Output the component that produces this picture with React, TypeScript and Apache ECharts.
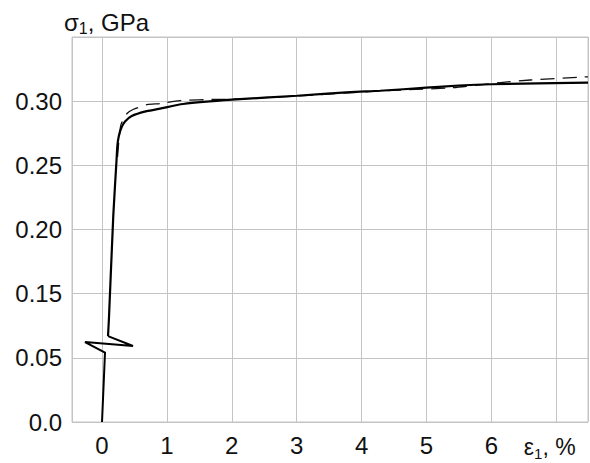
import React, { useEffect, useRef } from "react";
import * as echarts from "echarts";

// Strain ε1 (%) and stress σ1 (GPa) readings
const solidLower: [number, number][] = [
  [0, 0],
  [0.046, 0.054],
];
const solidUpper: [number, number][] = [
  [0.0925, 0.1169], [0.108, 0.132], [0.174, 0.211], [0.222, 0.2525], [0.238, 0.266],
  [0.262, 0.2735], [0.3, 0.2795], [0.355, 0.2842], [0.458, 0.2885], [0.689, 0.2922],
  [0.894, 0.2942], [1.249, 0.2978], [2.004, 0.3012], [3.006, 0.3042],
  [3.824, 0.3071], [4.286, 0.3081], [5.0, 0.3105], [5.5, 0.3122],
  [6.0, 0.3132], [7.49, 0.3145],
];
const dashed: [number, number][] = [
  [0.239, 0.2565], [0.262, 0.2704], [0.293, 0.2819], [0.385, 0.2904],
  [0.478, 0.2935], [0.694, 0.2973], [0.894, 0.2981], [1.2, 0.3004],
  [1.77, 0.3014], [2.0, 0.3015], [3.0, 0.304], [4.29, 0.308],
  [5.37, 0.3104], [6.14, 0.3145], [6.6, 0.3165], [7.49, 0.319],
];
// Zig-zag break symbol drawn on the curve (already in broken-axis units)
const breakMark: [number, number][] = [
  [-0.262, 0.0623],
  [0.478, 0.0592],
  [0.0925, 0.0669],
];

// The stress axis skips 0.05 GPa above the break
const BREAK_AT = 0.065;
const SKIP = 0.05;
const toAxis = (v: number) => (v > BREAK_AT ? v - SKIP : v);
const fromAxis = (d: number) => (d > 0.06 ? d + SKIP : d);
const mapPts = (pts: [number, number][]) => pts.map(([x, y]) => [x, toAxis(y)]);

const FONT = "'Liberation Sans', Arial, sans-serif";
const INK = "#111";

export default function App() {
  const ref = useRef<HTMLDivElement>(null);
  useEffect(() => {
    if (!ref.current) return;
    const chart = echarts.init(ref.current, undefined, { renderer: "svg" });
    const lowerWithBreak = [...mapPts(solidLower), ...breakMark];
    chart.setOption({
      animation: false,
      backgroundColor: "#ffffff",
      textStyle: { fontFamily: FONT },
      grid: {
        left: 72,
        right: 2,
        top: 37,
        bottom: 41,
        containLabel: false,
        outerBoundsMode: "none",
        show: true,
        borderColor: "#c4c4c4",
        borderWidth: 1,
      },
      xAxis: {
        type: "value",
        min: -0.4625,
        max: 7.49,
        minInterval: 1,
        maxInterval: 1,
        splitNumber: 8,
        axisLine: { show: false },
        axisTick: { show: false },
        splitLine: { show: true, lineStyle: { color: "#c4c4c4", width: 1 } },
        axisLabel: {
          showMinLabel: false,
          showMaxLabel: false,
          margin: 11,
          color: INK,
          fontSize: 24,
          fontFamily: FONT,
          formatter: (v: number) => {
            if (Math.abs(v - 7) < 1e-6) return "{g|ε}{s|1}{e|, %}";
            return String(Math.round(v));
          },
          rich: {
            g: { fontSize: 23, fontFamily: FONT, color: INK, lineHeight: 28 },
            s: { fontSize: 15, fontFamily: FONT, color: INK, lineHeight: 15, verticalAlign: "bottom" },
            e: { fontSize: 23, fontFamily: FONT, color: INK, lineHeight: 28, padding: [0, 13, 0, 0] },
          },
        },
      },
      yAxis: {
        type: "value",
        min: 0,
        max: 0.3,
        interval: 0.05,
        name: "{g|σ}{s|1}{e|, GPa}",
        nameLocation: "end",
        nameGap: 1,
        nameMoveOverlap: false,
        nameTextStyle: {
          rich: {
            g: { fontSize: 24, fontFamily: FONT, color: INK, lineHeight: 28, padding: [0, 0, 0, 9] },
            s: { fontSize: 16, fontFamily: FONT, color: INK, lineHeight: 16, verticalAlign: "bottom" },
            e: { fontSize: 24, fontFamily: FONT, color: INK, lineHeight: 28 },
          },
        },
        axisLine: { show: false },
        axisTick: { show: false },
        splitLine: { show: true, lineStyle: { color: "#c4c4c4", width: 1 } },
        axisLabel: {
          margin: 10,
          color: INK,
          fontSize: 24,
          fontFamily: FONT,
          showMaxLabel: false,
          formatter: (d: number) => {
            if (Math.abs(d) < 1e-9) return "0.0";
            if (d > 0.29) return "";
            return (Math.round(fromAxis(d) * 100) / 100).toFixed(2);
          },
        },
      },
      series: [
        {
          type: "line",
          data: mapPts(dashed),
          symbol: "none",
          smooth: 0.2,
          lineStyle: { color: INK, width: 1.3, type: [14, 8] },
          z: 2,
        },
        {
          type: "line",
          data: lowerWithBreak,
          symbol: "none",
          lineStyle: { color: "#000", width: 2, join: "miter" },
          z: 3,
        },
        {
          type: "line",
          data: mapPts(solidUpper),
          symbol: "none",
          smooth: 0.2,
          lineStyle: { color: "#000", width: 2.2 },
          z: 3,
        },
      ],
    });
    return () => chart.dispose();
  }, []);
  return (
    <div
      ref={ref}
      style={{ position: "fixed", left: 0, top: 0, width: 590, height: 463, background: "#fff" }}
    />
  );
}
